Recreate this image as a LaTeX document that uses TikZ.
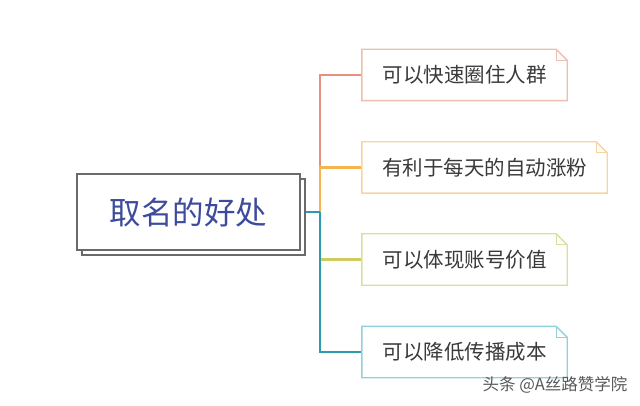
\documentclass[tikz,border=0pt]{standalone}
\usepackage{fontspec}
\newfontfamily\cjk{Noto Sans CJK SC}
\usetikzlibrary{shadows}
\definecolor{lnA}{HTML}{E8907E}
\definecolor{bdA}{HTML}{EDBFAE}
\definecolor{lnB}{HTML}{F4B54F}
\definecolor{bdB}{HTML}{F5D6A0}
\definecolor{lnC}{HTML}{CFCB5E}
\definecolor{bdC}{HTML}{DCDE9C}
\definecolor{lnD}{HTML}{2B9CB0}
\definecolor{bdD}{HTML}{92D1DB}
\definecolor{roottxt}{HTML}{3D4B9C}
\definecolor{leaftxt}{HTML}{3A3A3A}
\definecolor{rootbd}{HTML}{6A6A6A}
\tikzset{
  rootbox/.style={draw=rootbd, line width=1.4pt, fill=white, minimum width=223pt, minimum height=76pt,
    inner sep=0pt, font=\cjk\fontsize{31.5}{33}\selectfont, text=roottxt,
    copy shadow={shadow xshift=5pt, shadow yshift=-5pt, draw=rootbd, fill=white, line width=1.2pt}},
  leaf/.style={inner sep=0pt, minimum height=51pt, font=\cjk\fontsize{20.5}{23}\selectfont, text=leaftxt},
  branch/.style={line width=2.2pt},
  leafedge/.style={line width=1.4pt},
  foldline/.style={line width=0.9pt},
}
\newcommand{\foldbox}[2]{%
  \draw[leafedge,#2] (#1.south west) -- (#1.north west) -- ([xshift=-11pt]#1.north east)
    -- ([yshift=-11pt]#1.north east) -- (#1.south east) -- cycle;
  \draw[foldline,#2] ([xshift=-11pt]#1.north east) |- ([yshift=-11pt]#1.north east);
}
\begin{document}
\begin{tikzpicture}[x=1pt,y=-1pt]
\useasboundingbox (0,0) rectangle (640,406);
\fill[white] (0,0) rectangle (640,406);
\node[rootbox] (root) at (188.5,212) {取名的好处};
\node[leaf, minimum width=205pt] (b1) at (464.5,75) {可以快速圈住人群};
\node[leaf, minimum width=245pt] (b2) at (484.5,167.5) {有利于每天的自动涨粉};
\node[leaf, minimum width=205pt] (b3) at (464.5,259.5) {可以体现账号价值};
\node[leaf, minimum width=205pt] (b4) at (464.5,352) {可以降低传播成本};
\coordinate (j) at (320,212);
\draw[branch, lnA] (j) |- (b1.west);
\draw[branch, lnB] (j) |- (b2.west);
\draw[branch, lnC] (j) |- (b3.west);
\draw[branch, lnD] (j) |- (b4.west);
\draw[branch, lnD] ([xshift=5pt]root.east) -- (j);
\foldbox{b1}{bdA}
\foldbox{b2}{bdB}
\foldbox{b3}{bdC}
\foldbox{b4}{bdD}
\node[font=\cjk\fontsize{16.5}{18}\selectfont, text=black!65, inner sep=0pt] (wm) at (555,385) {头条 @A丝路赞学院};
\end{tikzpicture}
\end{document}
